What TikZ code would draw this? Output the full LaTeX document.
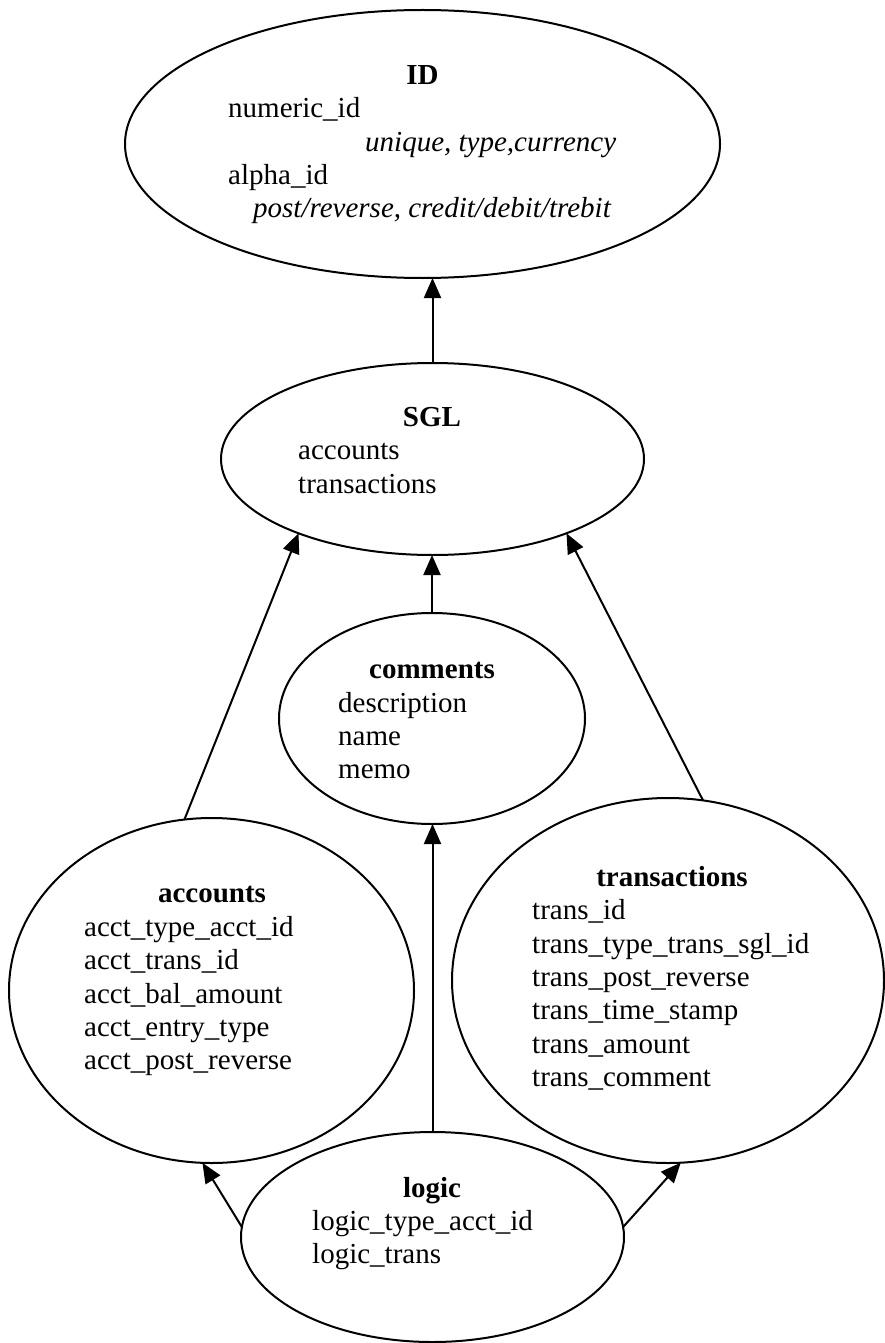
\documentclass[tikz,border=0pt]{standalone}
\usepackage{fontspec}
\setmainfont{Liberation Serif}
\usetikzlibrary{shapes.geometric,arrows.meta}
\begin{document}
\begin{tikzpicture}[x=1pt,y=-1pt,
  ent/.style={ellipse,draw,line width=2pt,inner sep=0pt,outer sep=0pt},
  txt/.style={anchor=base west,inner sep=0pt,font=\fontsize{29}{33}\selectfont},
  ttl/.style={anchor=base,inner sep=0pt,font=\fontsize{29}{33}\selectfont\bfseries},
  itx/.style={anchor=base west,inner sep=0pt,font=\fontsize{29}{33}\selectfont\itshape},
  link/.style={line width=2pt,-{Triangle[length=20pt,width=17pt]}}]
\useasboundingbox (0,0) rectangle (885,1343);

% ellipses
\node[ent,minimum width=595pt,minimum height=268pt] (ID) at (422.5,144) {};
\node[ent,minimum width=423pt,minimum height=192pt] (SGL) at (432.5,459) {};
\node[ent,minimum width=306pt,minimum height=211pt] (comments) at (432,718.5) {};
\node[ent,minimum width=405pt,minimum height=345pt] (accounts) at (211.5,990.5) {};
\node[ent,minimum width=432pt,minimum height=365pt] (transactions) at (668,980.5) {};
\node[ent,minimum width=383pt,minimum height=210pt] (logic) at (432.5,1237) {};

% ID texts
\node[ttl] (idT) at (422.5,85) {ID};
\node[txt] (id1) at (228,118) {numeric\_id};
\node[itx] (id2) at (365,152) {unique, type,currency};
\node[txt] (id3) at (228,185) {alpha\_id};
\node[itx] (id4) at (253,218) {post/reverse, credit/debit/trebit};

% SGL texts
\node[ttl] (sglT) at (432,426) {SGL};
\node[txt] (sgl1) at (298,459.5) {accounts};
\node[txt] (sgl2) at (298,493) {transactions};

% comments texts
\node[ttl] (comT) at (432,678) {comments};
\node[txt] (com1) at (338,712) {description};
\node[txt] (com2) at (338,745) {name};
\node[txt] (com3) at (338,778) {memo};

% accounts texts
\node[ttl] (accT) at (212,902) {accounts};
\node[txt] (acc1) at (84,936) {acct\_type\_acct\_id};
\node[txt] (acc2) at (84,969) {acct\_trans\_id};
\node[txt] (acc3) at (84,1003) {acct\_bal\_amount};
\node[txt] (acc4) at (84,1036) {acct\_entry\_type};
\node[txt] (acc5) at (84,1069) {acct\_post\_reverse};

% transactions texts
\node[ttl] (trT) at (672,886) {transactions};
\node[txt] (tr1) at (532,919) {trans\_id};
\node[txt] (tr2) at (532,953) {trans\_type\_trans\_sgl\_id};
\node[txt] (tr3) at (532,986) {trans\_post\_reverse};
\node[txt] (tr4) at (532,1019) {trans\_time\_stamp};
\node[txt] (tr5) at (532,1053) {trans\_amount};
\node[txt] (tr6) at (532,1086) {trans\_comment};

% logic texts
\node[ttl] (logT) at (432,1197) {logic};
\node[txt] (log1) at (312,1230) {logic\_type\_acct\_id};
\node[txt] (log2) at (312,1263) {logic\_trans};

% connectors
\draw[link] (SGL.north) -- (ID.south -| SGL.north);
\draw[link] (comments.north) -- (SGL.south -| comments.north);
\draw[link] (accounts.99.4) -- (SGL.209.5);
\draw[link] (transactions.79.4) -- (SGL.331.4);
\draw[link] (logic.north) -- (comments.south -| logic.north);
\draw[link] (logic.177) -- (accounts.267.5);
\draw[link] (logic.3) -- (transactions.274.4);
\end{tikzpicture}
\end{document}
